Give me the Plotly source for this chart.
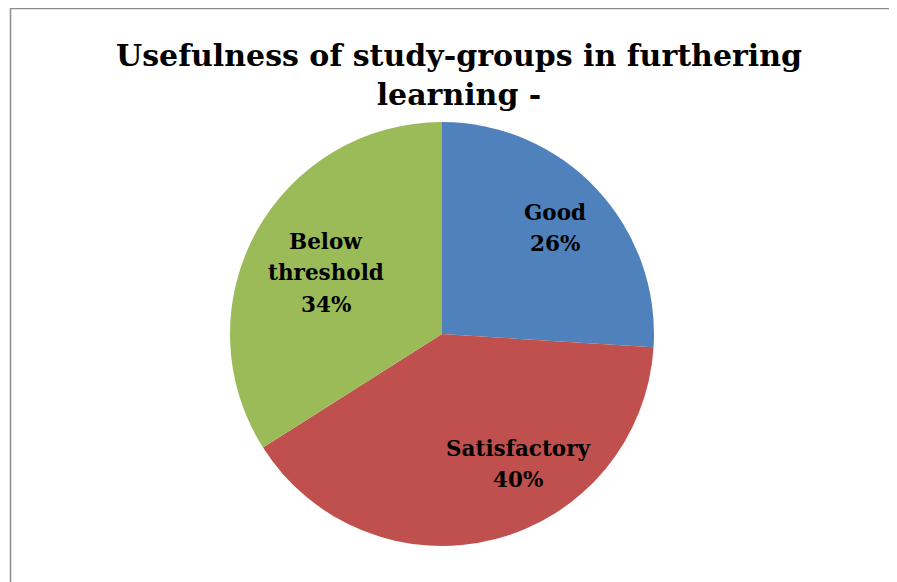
import math
import plotly.graph_objects as go

categories = ["Good", "Satisfactory", "Below threshold"]
values = [26, 40, 34]
label_lines = [["Good"], ["Satisfactory"], ["Below", "threshold"]]
colors = ["#4F81BD", "#C0504D", "#9BBB59"]

# the page body adds an 8px margin; layout is expressed in screen pixels minus that offset
OFF = 8
W, H = 897, 582
cx, cy, R = 442 - OFF, 334 - OFF, 212
LINE = 31.5

# label placement (radius fraction, angle shift in degrees) per slice
label_r = [0.73, 0.71, 0.62]
label_shift = [0, -16, -1]

fig = go.Figure()
fig.add_trace(go.Pie(
    labels=categories, values=values, sort=False, direction="clockwise", rotation=0,
    marker=dict(colors=colors, line=dict(width=0)),
    textinfo="none", hoverinfo="label+percent", showlegend=False,
    domain=dict(x=[(cx - R) / W, (cx + R) / W], y=[(H - cy - R) / H, (H - cy + R) / H]),
))

total = sum(values)
acc = 0
font = "DejaVu Serif"
for i, v in enumerate(values):
    mid = (acc + v / 2) / total * 360 + label_shift[i]
    acc += v
    r = label_r[i] * R
    x = cx + r * math.sin(math.radians(mid))
    y = cy - r * math.cos(math.radians(mid))
    pct = round(v / total * 100)
    lines = label_lines[i] + [f"{pct}%"]
    n = len(lines)
    for k, t in enumerate(lines):
        yy = y + (k - (n - 1) / 2) * LINE
        fig.add_annotation(x=x / W, y=1 - yy / H, xref="paper", yref="paper",
                           xanchor="center", yanchor="middle",
                           text=f"<b>{t}</b>", showarrow=False,
                           font=dict(family=font, size=21.5, color="black"))

fig.add_annotation(x=(459 - OFF) / W, y=1 - (75 - OFF) / H, xref="paper", yref="paper",
                   xanchor="center", yanchor="middle",
                   text="<b>Usefulness of study-groups in furthering<br>learning -</b>",
                   showarrow=False, font=dict(family=font, size=30, color="black"),
                   align="center")

fig.add_shape(type="rect", xref="paper", yref="paper",
              x0=(10.5 - OFF) / W, x1=1.05, y0=-0.05, y1=1 - (8.5 - OFF) / H,
              line=dict(color="#8c8c8c", width=1.5))

fig.update_layout(width=W, height=H, margin=dict(l=0, r=0, t=0, b=0),
                  paper_bgcolor="white", plot_bgcolor="white")
fig.write_html("out.html")
